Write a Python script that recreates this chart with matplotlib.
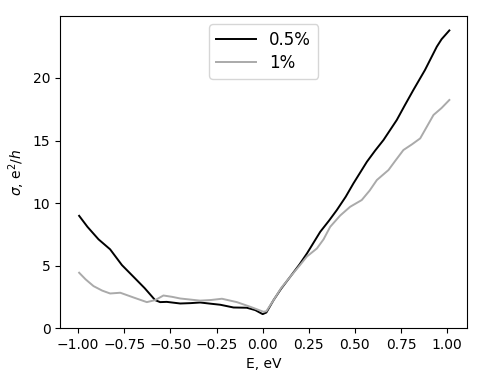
import numpy as np
import matplotlib
matplotlib.use("Agg")
import matplotlib.pyplot as plt

# conductivity vs energy, two defect concentrations
E_05 = [-0.995, -0.95, -0.89, -0.827, -0.763, -0.70, -0.64, -0.583, -0.556,
        -0.52, -0.447, -0.39, -0.339, -0.28, -0.23, -0.158, -0.086, -0.04,
        0.0, 0.02, 0.059, 0.10, 0.149, 0.20, 0.24, 0.312, 0.36, 0.402, 0.45,
        0.492, 0.565, 0.61, 0.655, 0.727, 0.77, 0.817, 0.88, 0.944, 0.97, 1.012]
sigma_05 = [8.98, 8.1, 7.1, 6.3, 5.04, 4.1, 3.2, 2.24, 2.08,
            2.1, 1.97, 2.0, 2.05, 1.95, 1.87, 1.65, 1.63, 1.44,
            1.12, 1.25, 2.24, 3.15, 4.1, 5.1, 5.97, 7.7, 8.6, 9.44, 10.5,
            11.57, 13.3, 14.2, 15.04, 16.64, 17.8, 19.04, 20.64, 22.5, 23.1, 23.8]

E_1 = [-0.995, -0.96, -0.917, -0.87, -0.827, -0.772, -0.70, -0.628, -0.583,
       -0.538, -0.49, -0.447, -0.339, -0.28, -0.221, -0.14, -0.068, 0.004,
       0.02, 0.059, 0.10, 0.149, 0.20, 0.24, 0.294, 0.33, 0.366, 0.42, 0.474,
       0.537, 0.58, 0.619, 0.682, 0.72, 0.763, 0.81, 0.854, 0.926, 0.97, 1.012]
sigma_1 = [4.43, 3.9, 3.36, 3.0, 2.77, 2.83, 2.45, 2.08, 2.24,
           2.61, 2.5, 2.37, 2.2, 2.25, 2.35, 2.08, 1.71, 1.31,
           1.35, 2.24, 3.2, 4.1, 5.0, 5.73, 6.37, 7.1, 8.1, 9.0, 9.7,
           10.24, 11.0, 11.84, 12.64, 13.4, 14.24, 14.7, 15.17, 17.04, 17.6, 18.24]

fig = plt.figure(figsize=(4.85, 3.82), dpi=100)
ax = fig.add_axes([0.124, 0.141, 0.839, 0.817])

ax.plot(E_05, sigma_05, color="black", linewidth=1.4, label="0.5%")
ax.plot(E_1, sigma_1, color="#aaaaaa", linewidth=1.4, label="1%")

ax.set_xlim(-1.098, 1.108)
ax.set_ylim(0, 24.95)
ax.set_xticks([-1.0, -0.75, -0.5, -0.25, 0.0, 0.25, 0.5, 0.75, 1.0])
ax.set_yticks([0, 5, 10, 15, 20])
ax.set_xlabel("E, eV")
ax.set_ylabel(r"$\sigma$, e$^2/h$")
ax.legend(loc="upper center", fontsize=12, labelspacing=0.3,
          handlelength=2.4)

fig.savefig("out.png", dpi=100)
